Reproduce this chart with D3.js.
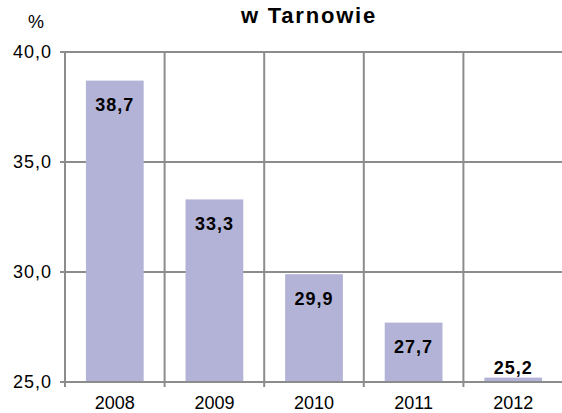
<!DOCTYPE html>
<html>
<head>
<meta charset="utf-8">
<script src="https://cdn.jsdelivr.net/npm/d3@7"></script>
<style>
  body { margin: 0; background: #fff; }
  text { font-family: "Liberation Sans", Arial, sans-serif; }
</style>
</head>
<body>
<div id="chart"></div>
<script>
// data
var years = ["2008", "2009", "2010", "2011", "2012"];
var values = [38.7, 33.3, 29.9, 27.7, 25.2];
var yTicks = [25, 30, 35, 40];

var W = 562, H = 413;
var margin = { top: 52, right: -1, bottom: 31, left: 65 },
    width = W - margin.left - margin.right,
    height = H - margin.top - margin.bottom;

var svg = d3.select("#chart").append("svg")
    .attr("width", W)
    .attr("height", H);

// title and unit
svg.append("text")
    .attr("x", 309).attr("y", 23)
    .attr("text-anchor", "middle")
    .attr("font-size", "22px")
    .attr("font-weight", "bold")
    .attr("letter-spacing", "1.8px")
    .text("w Tarnowie");
svg.append("text")
    .attr("x", 36).attr("y", 28)
    .attr("text-anchor", "middle")
    .attr("font-size", "18px")
    .text("%");

var g = svg.append("g")
    .attr("transform", "translate(" + margin.left + "," + margin.top + ")");

var x = d3.scaleBand().domain(years).range([0, width]).paddingInner(0.42).paddingOuter(0.21);
var xb = d3.scaleBand().domain(years).range([0, width]);
var y = d3.scaleLinear().domain([25, 40]).range([height, 0]);

var fmt = function (v) { return d3.format(".1f")(v).replace(".", ","); };
var grid = "#8c8c8c";

// horizontal gridlines
g.selectAll(".hgrid").data(yTicks).enter().append("line")
    .attr("x1", -5).attr("x2", width)
    .attr("y1", function (d) { return y(d); })
    .attr("y2", function (d) { return y(d); })
    .attr("stroke", grid).attr("stroke-width", 2);

// vertical gridlines (category boundaries)
var bounds = years.map(function (d) { return xb(d); }).concat([width]);
g.selectAll(".vgrid").data(bounds).enter().append("line")
    .attr("x1", function (d) { return d; })
    .attr("x2", function (d) { return d; })
    .attr("y1", 0).attr("y2", height + 5)
    .attr("stroke", grid).attr("stroke-width", 2);

// bars
g.selectAll(".bar").data(values).enter().append("rect")
    .attr("x", function (d, i) { return x(years[i]); })
    .attr("width", x.bandwidth())
    .attr("y", function (d) { return y(d); })
    .attr("height", function (d) { return height - y(d); })
    .attr("fill", "#b3b3d7");

// redraw bottom axis line over bars
g.append("line")
    .attr("x1", -5).attr("x2", width)
    .attr("y1", height).attr("y2", height)
    .attr("stroke", grid).attr("stroke-width", 2);

// value labels
g.selectAll(".lbl").data(values).enter().append("text")
    .attr("x", function (d, i) { return x(years[i]) + x.bandwidth() / 2; })
    .attr("y", function (d) { return Math.min(y(d) + 24, height - 14); })
    .attr("dy", "0.35em")
    .attr("text-anchor", "middle")
    .attr("font-size", "18px")
    .attr("font-weight", "bold")
    .attr("letter-spacing", "1px")
    .text(fmt);

// y tick labels
g.selectAll(".ytl").data(yTicks).enter().append("text")
    .attr("x", -13)
    .attr("y", function (d) { return y(d); })
    .attr("dy", "0.35em")
    .attr("text-anchor", "end")
    .attr("font-size", "18px")
    .attr("letter-spacing", "1px")
    .text(fmt);

// x tick labels
g.selectAll(".xtl").data(years).enter().append("text")
    .attr("x", function (d) { return xb(d) + xb.bandwidth() / 2; })
    .attr("y", height + 21)
    .attr("dy", "0.35em")
    .attr("text-anchor", "middle")
    .attr("font-size", "18px")
    .text(function (d) { return d; });
</script>
</body>
</html>
